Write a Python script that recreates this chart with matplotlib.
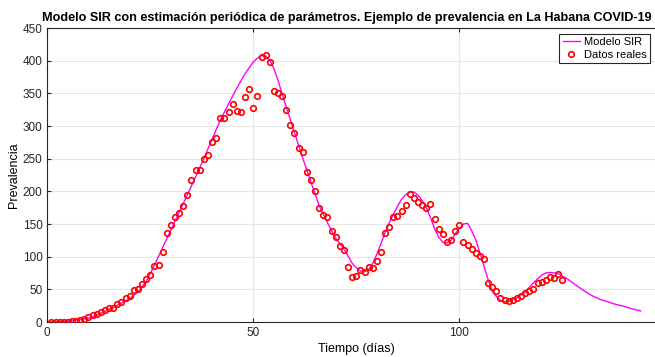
import numpy as np
import matplotlib
matplotlib.use('Agg')
import matplotlib.pyplot as plt

plt.rcParams['font.family'] = ['Liberation Sans', 'DejaVu Sans']

# datos reales (prevalencia diaria), dias 1..125
dias = np.arange(1, 126)
prevalencia = [
    0, 0, 0, 0, 0, 1, 2, 3, 4, 7,
    11, 13, 16, 19, 22, 22, 28, 31, 37, 40,
    49, 51, 58, 66, 72, 86, 88, 107, 137, 148,
    160, 167, 178, 195, 217, 233, 232, 250, 255, 275,
    282, 312, 313, 322, 334, 323, 322, 344, 356, 328,
    346, 405, 409, 398, 353, 350, 346, 325, 301, 290,
    266, 261, 229, 217, 201, 174, 164, 161, 139, 130,
    116, 110, 84, 69, 71, 80, 76, 84, 83, 94,
    107, 137, 145, 160, 162, 170, 179, 196, 190, 184,
    179, 175, 180, 157, 142, 134, 123, 126, 140, 148,
    122, 118, 112, 106, 101, 96, 59, 53, 48, 36,
    34, 32, 33, 36, 40, 44, 47, 51, 59, 62,
    64, 69, 68, 73, 64,
]

# curva del modelo SIR
modelo_t = [0, 2, 4, 6, 8, 10, 12, 14, 16, 18, 20, 22, 24, 26, 28, 30,
            32, 34, 36, 38, 40, 42, 44, 46, 48, 50, 51, 52, 53, 54, 55, 56,
            58, 60, 62, 64, 66, 68, 70, 72, 74, 75, 76, 77, 78, 79, 80, 81,
            82, 83, 84, 85, 86, 87, 88, 89, 90, 91, 92, 93, 94, 95, 96, 97,
            98, 99, 100, 101, 102, 103, 104, 105, 106, 107, 108, 109, 110,
            111, 112, 114, 116, 118, 120, 121, 122, 123, 124, 126, 128, 130,
            132, 134, 136, 138, 140, 142, 144]
modelo_v = [0, 0.5, 1, 2, 4, 6, 10, 16, 22, 29, 36, 46, 62, 87, 114, 141,
            168, 195, 222, 250, 280, 309, 334, 358, 380, 398, 404, 408, 407, 401, 388, 370,
            329, 290, 251, 214, 178, 152, 128, 112, 90, 83, 78, 77, 80, 90, 104, 120,
            137, 152, 165, 177, 188, 195, 199, 199, 194, 186, 175, 160, 143, 130, 122, 121,
            125, 135, 143, 150, 151, 140, 126, 106, 85, 65, 47, 39, 33,
            31, 32, 37, 46, 60, 72, 75, 76, 75, 74, 67, 58, 49,
            41, 35, 31, 27, 24, 20, 17]

fig = plt.figure(figsize=(6.55, 3.57), dpi=100)
ax = fig.add_axes([0.0722, 0.098, 0.9435, 0.8235])

ax.plot(modelo_t, modelo_v, color='#ff00ff', lw=1.0, label='Modelo SIR', zorder=2)
ax.plot(dias, prevalencia, 'o', mfc='none', mec='#ff0000', ms=4, mew=1.2,
        label='Datos reales', zorder=3)

ax.set_xlim(0, 150)
ax.set_ylim(0, 450)
ax.set_xticks([0, 50, 100])
ax.set_yticks(np.arange(0, 451, 50))
ax.grid(True, color='#e6e6e6', lw=0.8)
ax.set_axisbelow(True)
ax.tick_params(direction='in', length=3, labelsize=8.5, colors='#262626',
               top=True, right=True)
for s in ax.spines.values():
    s.set_color('#262626')
    s.set_linewidth(0.8)

ax.set_xlabel('Tiempo (días)', fontsize=9, labelpad=3)
ax.set_ylabel('Prevalencia', fontsize=9, labelpad=2)
ax.set_title('Modelo SIR con estimación periódica de parámetros. '
             'Ejemplo de prevalencia en La Habana COVID-19',
             fontsize=9.1, fontweight='bold', pad=5, x=0.484)

leg = ax.legend(loc='upper right', bbox_to_anchor=(0.992, 0.905),
                bbox_transform=fig.transFigure, fontsize=8, fancybox=False,
                edgecolor='#262626', framealpha=1, handlelength=1.6,
                borderpad=0.3, labelspacing=0.25, handletextpad=0.3,
                borderaxespad=0)
leg.get_frame().set_linewidth(0.8)

fig.savefig('out.png', dpi=100)
